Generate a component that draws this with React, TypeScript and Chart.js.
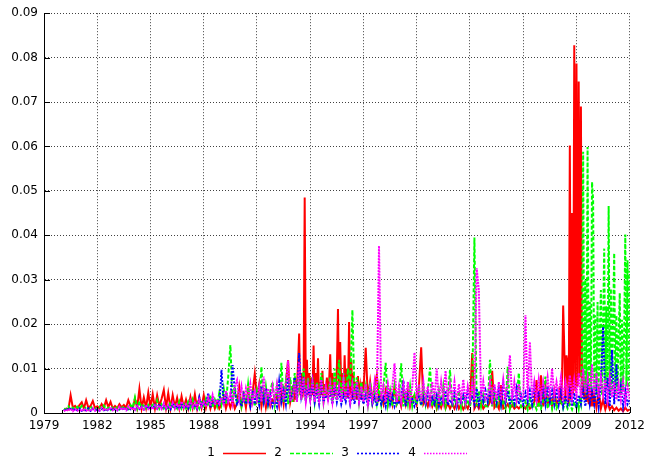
import React, { useEffect, useRef } from "react";
import { Chart, registerables } from "chart.js";

Chart.register(...registerables);

// Values are given in thousandths (multiply by UNIT). Each row is one year,
// sampled evenly through that year (8 or 16 samples); the first row (1980)
// holds 8-per-year samples ending at the year's end.
const UNIT = 0.001;
const FIRST_YEAR = 1980;
const FIRST_ROW_STEPS = 8;

const SERIES_LABELS = ["1", "2", "3", "4"];
const X_TICKS = [1979, 1982, 1985, 1988, 1991, 1994, 1997, 2000, 2003, 2006, 2009, 2012];
const Y_TICKS = [0, 0.01, 0.02, 0.03, 0.04, 0.05, 0.06, 0.07, 0.08, 0.09];

const SERIES_1 = [
  [0.5, 1.0, 0.8, 4.0, 1.2, 1.6, 1.0],
  [1.8, 2.4, 1.0, 2.9, 1.2, 1.6, 2.7, 1.1],
  [1.5, 1.0, 2.0, 1.2, 2.9, 1.3, 2.5, 1.0],
  [1.6, 1.1, 2.0, 1.3, 1.8, 1.2, 2.9, 1.5],
  [1.0, 3.2, 1.2, 5.4, 1.0, 3.5, 1.2, 4.6],
  [1.2, 4.2, 1.0, 4.0, 1.5, 3.2, 5.2, 1.2],
  [4.5, 1.0, 4.0, 1.3, 3.4, 1.0, 3.8, 1.2],
  [3.0, 1.0, 3.6, 1.2, 4.2, 1.0, 3.5, 1.2],
  [4.0, 1.2, 3.2, 1.0, 2.8, 1.0, 2.5, 1.0],
  [2.0, 3.5, 1.0, 2.8, 1.2, 3.0, 1.0, 2.2],
  [5.9, 1.5, 4.0, 1.2, 5.0, 1.5, 4.5, 8.8],
  [3.5, 6.5, 1.5, 4.5, 1.2, 3.8, 1.5, 3.0],
  [2.5, 4.0, 1.5, 5.5, 2.0, 6.5, 11.9, 2.5],
  [5.0, 2.5, 8.0, 3.0, 6.0, 11.0, 17.9, 4.0, 9.0, 3.5, 7.0, 48.5, 5.0, 12.0, 4.0, 9.0],
  [3.0, 8.0, 4.0, 15.2, 3.5, 9.0, 4.0, 12.3, 3.0, 7.0, 4.0, 9.5, 3.0, 6.5, 4.0, 8.0],
  [3.0, 7.0, 13.2, 4.0, 9.0, 3.5, 8.0, 4.0, 10.0, 23.4, 4.0, 16.0, 5.0, 9.0, 4.0, 13.0],
  [4.0, 10.0, 3.5, 20.5, 4.0, 12.0, 3.0, 9.0, 3.5, 7.0, 3.0, 8.3, 4.0, 6.0, 3.0, 7.0],
  [5.0, 14.7, 3.0, 7.0, 2.5, 6.0, 8.6, 3.0],
  [4.0, 2.0, 5.0, 2.0, 4.5, 2.0, 6.0, 2.0],
  [3.5, 1.5, 4.5, 2.0, 5.0, 1.5, 3.5, 4.0],
  [2.0, 6.0, 14.8, 2.0, 3.0, 1.5, 3.5, 1.5],
  [3.0, 1.0, 2.5, 1.2, 3.0, 1.0, 2.2, 1.0],
  [2.0, 1.0, 2.5, 1.0, 2.0, 0.8, 1.8, 1.0],
  [2.5, 13.5, 1.0, 2.0, 1.0, 2.2, 1.0, 1.8],
  [1.5, 2.5, 9.5, 1.2, 2.0, 1.0, 6.3, 1.0],
  [1.2, 2.0, 1.0, 1.8, 1.0, 1.5, 1.0, 1.6],
  [1.5, 1.0, 2.0, 1.0, 1.5, 2.5, 7.4, 1.5],
  [8.5, 1.5, 6.0, 2.0, 4.0, 1.5, 5.0, 2.0],
  [3.0, 6.0, 2.0, 8.0, 24.2, 14.6, 2.5, 13.0, 11.0, 2.0, 60.2, 3.0, 45.0, 4.0, 82.8, 5.0],
  [78.7, 6.0, 74.6, 8.0, 69.0, 4.0, 9.0, 3.0, 8.0, 2.5, 9.3, 2.0, 6.0, 1.5, 5.0, 1.5],
  [4.0, 1.2, 5.0, 1.0, 3.0, 0.8, 2.5, 0.8],
  [1.5, 0.6, 1.2, 0.5, 1.0, 0.4, 1.2, 0.5],
  [0.8],
];

const SERIES_2 = [
  [1.0, 0.8, 1.5, 0.7, 1.2, 0.8, 1.4],
  [0.9, 1.6, 0.8, 1.3, 0.7, 1.5, 0.9, 1.2],
  [0.8, 1.4, 0.9, 1.7, 0.8, 1.2, 0.7, 1.5],
  [1.0, 1.3, 0.8, 1.6, 1.0, 1.4, 0.9, 1.8],
  [1.2, 3.5, 1.0, 2.6, 1.0, 2.0, 1.0, 1.8],
  [1.0, 2.2, 1.0, 2.8, 1.0, 2.0, 1.0, 1.7],
  [1.0, 2.4, 1.0, 1.8, 1.0, 2.6, 1.0, 2.0],
  [1.0, 2.5, 1.0, 3.0, 1.2, 2.2, 1.0, 2.8],
  [1.2, 3.2, 1.5, 4.0, 1.2, 3.0, 1.5, 4.5],
  [2.0, 5.5, 2.0, 8.0, 15.3, 2.5, 6.0, 2.0],
  [4.0, 1.5, 5.0, 2.0, 6.5, 2.0, 4.5, 1.5],
  [5.0, 2.0, 10.4, 2.0, 6.0, 2.0, 5.0, 7.0],
  [2.0, 6.0, 2.0, 11.3, 2.5, 7.0, 2.0, 8.0],
  [2.5, 9.0, 2.5, 8.0, 3.0, 10.0, 2.5, 8.0],
  [3.0, 8.0, 2.5, 7.0, 3.0, 9.0, 2.5, 6.0],
  [3.0, 8.0, 2.5, 10.0, 3.0, 12.0, 3.0, 9.0],
  [3.0, 10.0, 6.0, 23.2, 3.0, 8.0, 2.5, 7.0],
  [3.0, 6.0, 2.0, 7.0, 2.5, 5.0, 2.0, 6.0],
  [2.0, 6.0, 11.3, 2.0, 5.0, 1.5, 6.0, 2.0],
  [3.0, 11.2, 1.5, 5.0, 2.0, 6.0, 1.5, 4.0],
  [2.0, 5.0, 1.5, 6.0, 2.0, 5.0, 10.2, 1.5],
  [4.0, 1.5, 5.0, 1.5, 6.0, 1.5, 4.0, 9.7],
  [1.2, 3.5, 1.5, 5.0, 1.2, 4.0, 1.5, 3.0],
  [1.5, 4.0, 39.5, 1.5, 5.0, 1.5, 4.0, 1.5],
  [1.5, 12.0, 1.5, 5.0, 1.2, 4.0, 1.5, 3.0],
  [1.2, 10.4, 1.0, 3.0, 1.2, 2.5, 9.0, 1.0],
  [1.0, 2.5, 0.8, 3.0, 1.0, 2.0, 0.8, 2.5],
  [1.0, 3.0, 8.2, 1.0, 4.0, 1.0, 3.5, 1.0],
  [2.0, 3.0, 1.0, 2.5, 1.0, 2.0, 0.8, 2.5],
  [1.0, 2.5, 1.0, 3.0, 2.0, 15.0, 58.8, 5.0, 30.0, 4.0, 59.9, 6.0, 25.0, 5.0, 52.0, 48.0],
  [5.0, 22.0, 4.0, 25.0, 6.0, 18.0, 27.7, 4.0, 20.0, 37.0, 5.0, 24.0, 6.0, 46.6, 4.0, 28.0],
  [5.0, 20.0, 36.0, 4.0, 22.0, 5.0, 17.0, 27.0, 4.0, 21.0, 5.0, 18.0, 40.2, 6.0, 34.4, 5.0],
  [32.0],
];

const SERIES_3 = [
  [0.5, 1.0, 0.6, 1.2, 0.5, 0.9, 0.6],
  [1.0, 0.5, 0.8, 0.6, 1.1, 0.5, 0.9, 0.6],
  [0.8, 0.5, 1.0, 0.6, 0.9, 0.5, 1.2, 0.6],
  [0.9, 0.6, 1.1, 0.7, 1.3, 0.6, 1.0, 0.8],
  [1.2, 0.8, 1.6, 0.9, 1.4, 0.8, 1.8, 1.0],
  [1.5, 0.9, 1.8, 1.0, 2.0, 1.0, 1.6, 0.9],
  [1.4, 0.8, 2.2, 1.0, 1.6, 0.9, 2.0, 1.0],
  [1.8, 1.0, 2.4, 1.2, 2.0, 1.0, 3.5, 1.5],
  [2.5, 1.5, 4.5, 1.2, 3.0, 1.8, 3.0, 1.5],
  [9.7, 2.0, 4.0, 2.5, 3.0, 10.8, 5.0, 2.0],
  [3.0, 1.5, 4.0, 2.0, 3.5, 1.5, 5.0, 2.0],
  [4.0, 1.8, 6.0, 2.5, 5.5, 2.0, 4.0, 1.5],
  [3.0, 1.5, 7.0, 2.5, 5.0, 2.0, 8.0, 3.0],
  [4.0, 8.0, 3.0, 13.5, 4.0, 7.0, 3.0, 6.0],
  [3.0, 7.0, 2.5, 5.0, 2.0, 6.0, 2.5, 4.0],
  [3.0, 5.0, 2.0, 6.0, 2.5, 5.0, 2.0, 4.0],
  [2.5, 5.0, 2.0, 4.5, 2.0, 6.0, 2.5, 4.0],
  [2.0, 4.0, 1.5, 5.0, 2.0, 3.5, 1.5, 4.0],
  [2.0, 3.5, 1.5, 5.0, 2.0, 4.0, 1.5, 3.0],
  [2.0, 3.5, 7.3, 1.5, 4.0, 2.0, 3.5, 1.5],
  [2.5, 4.0, 1.8, 3.5, 2.0, 4.5, 2.0, 3.5],
  [2.0, 4.0, 1.5, 3.5, 2.0, 5.0, 1.8, 3.0],
  [2.0, 4.5, 1.5, 3.5, 2.0, 4.0, 2.2, 5.0],
  [2.5, 4.0, 2.0, 5.5, 2.0, 4.5, 2.5, 5.0],
  [2.5, 5.0, 2.0, 6.0, 2.5, 5.5, 2.0, 6.5],
  [2.5, 5.0, 1.8, 4.5, 2.2, 5.5, 2.0, 4.0],
  [2.0, 4.5, 2.5, 5.0, 2.0, 6.0, 2.5, 5.0],
  [2.5, 5.5, 2.0, 6.0, 2.5, 5.0, 2.0, 5.5],
  [2.0, 5.0, 1.5, 4.0, 2.0, 5.0, 1.5, 4.5],
  [1.5, 4.0, 2.0, 5.0, 1.5, 6.0, 2.0, 5.0],
  [2.0, 6.0, 1.5, 7.0, 19.4, 2.0, 8.0, 1.5],
  [14.2, 2.0, 11.0, 2.5, 6.0, 1.5, 5.0, 2.0],
  [3.0],
];

const SERIES_4 = [
  [0.4, 0.8, 0.5, 1.0, 0.4, 0.9, 0.5],
  [0.8, 0.4, 1.0, 0.5, 0.8, 0.4, 1.1, 0.5],
  [0.9, 0.5, 1.2, 0.5, 1.0, 0.6, 1.3, 0.6],
  [1.0, 0.6, 1.4, 0.7, 1.2, 0.6, 1.5, 0.8],
  [1.3, 0.7, 1.6, 0.8, 1.4, 0.8, 1.8, 0.9],
  [1.5, 0.8, 2.0, 1.0, 1.7, 0.9, 2.2, 1.0],
  [1.8, 1.0, 2.4, 1.1, 2.0, 1.0, 2.6, 1.2],
  [2.0, 1.2, 2.8, 1.3, 2.4, 1.2, 3.0, 1.5],
  [2.5, 1.4, 3.5, 1.6, 4.0, 1.8, 3.0, 2.0],
  [3.5, 2.0, 5.0, 2.5, 4.5, 2.0, 6.0, 7.4],
  [3.0, 6.0, 2.5, 5.5, 3.0, 6.5, 2.5, 5.0],
  [3.0, 6.0, 2.5, 8.2, 3.0, 5.5, 2.5, 6.0],
  [3.0, 6.5, 2.5, 7.0, 3.0, 6.0, 11.8, 3.0],
  [3.0, 7.0, 2.5, 11.5, 3.0, 8.0, 2.5, 6.5],
  [3.0, 7.0, 2.5, 6.5, 3.0, 7.5, 2.5, 6.0],
  [3.0, 6.5, 2.5, 7.0, 3.0, 6.0, 2.5, 7.5],
  [3.0, 6.0, 2.5, 6.5, 3.0, 7.0, 2.5, 6.0],
  [2.5, 6.5, 2.0, 6.0, 3.0, 7.0, 2.5, 37.6],
  [3.0, 6.0, 2.5, 6.5, 3.0, 6.0, 11.2, 2.5],
  [6.0, 2.5, 6.5, 3.0, 7.0, 2.5, 6.0, 13.6],
  [3.0, 6.5, 2.5, 7.0, 3.0, 6.0, 2.5, 7.0],
  [3.0, 10.0, 2.5, 7.0, 3.0, 9.5, 2.5, 6.5],
  [3.0, 7.0, 2.5, 6.5, 3.0, 7.5, 2.5, 6.0],
  [3.0, 6.5, 3.0, 32.6, 27.7, 3.0, 7.0, 3.0],
  [3.5, 7.0, 3.0, 6.5, 3.0, 7.0, 3.0, 7.5],
  [3.5, 6.5, 13.0, 3.0, 7.0, 3.0, 6.5, 3.0],
  [3.5, 22.0, 3.0, 16.0, 3.5, 7.0, 3.0, 7.5],
  [3.5, 7.0, 3.5, 8.0, 3.5, 10.0, 4.0, 7.0],
  [4.0, 8.0, 3.5, 7.0, 4.0, 8.5, 3.5, 7.5],
  [4.0, 9.0, 3.5, 10.0, 4.5, 8.0, 3.5, 11.0],
  [4.0, 9.0, 3.5, 8.0, 4.0, 7.5, 3.0, 8.0],
  [3.5, 7.0, 3.0, 6.5, 3.0, 7.0, 2.5, 6.0],
  [3.0],
];

const SERIES_ROWS = [SERIES_1, SERIES_2, SERIES_3, SERIES_4];
const SERIES_COLORS = ["#ff0000", "#00ff00", "#0000ff", "#ff00ff"];
const SERIES_DASH: number[][] = [[], [4, 2], [2, 1.5], [2, 1]];
const LEGEND_DASH: number[][] = [[], [4, 2], [2, 2], [1.5, 1.5]];

const FONT_FAMILY = '"DejaVu Sans", sans-serif';
const FONT_SIZE = 12;

function toPoints(rows: number[][]) {
  const pts: { x: number; y: number }[] = [];
  rows.forEach((row, r) => {
    const year = FIRST_YEAR + r;
    row.forEach((v, j) => {
      const t = r === 0 ? year + 1 - (row.length - j) / FIRST_ROW_STEPS : year + j / row.length;
      pts.push({ x: t, y: v * UNIT });
    });
  });
  return pts;
}

const decorPlugin = {
  id: "decor",
  afterDraw(chart: any) {
    const { ctx, chartArea, scales } = chart;
    const xs = scales.x;
    const ys = scales.y;
    ctx.save();
    ctx.strokeStyle = "#000";
    ctx.lineWidth = 1;
    ctx.setLineDash([]);
    for (let yr = X_TICKS[0]; yr <= X_TICKS[X_TICKS.length - 1]; yr++) {
      const px = Math.round(xs.getPixelForValue(yr)) + 0.5;
      const len = X_TICKS.includes(yr) ? 6 : 3;
      ctx.beginPath();
      ctx.moveTo(px, chartArea.bottom);
      ctx.lineTo(px, chartArea.bottom - len);
      ctx.stroke();
    }
    for (const v of Y_TICKS) {
      const py = Math.round(ys.getPixelForValue(v)) + 0.5;
      ctx.beginPath();
      ctx.moveTo(chartArea.left, py);
      ctx.lineTo(chartArea.left + 6, py);
      ctx.stroke();
    }
    ctx.font = `${FONT_SIZE}px ${FONT_FAMILY}`;
    ctx.fillStyle = "#000";
    ctx.textAlign = "right";
    ctx.textBaseline = "middle";
    const ly = 453;
    SERIES_LABELS.forEach((lab, i) => {
      const lx = 223 + 67 * i;
      ctx.fillText(lab, lx - 8, ly);
      ctx.save();
      ctx.strokeStyle = SERIES_COLORS[i];
      ctx.lineWidth = 1.6;
      ctx.setLineDash(LEGEND_DASH[i]);
      ctx.beginPath();
      ctx.moveTo(lx, ly + 0.5);
      ctx.lineTo(lx + 43, ly + 0.5);
      ctx.stroke();
      ctx.restore();
    });
    ctx.restore();
  },
};

export default function App() {
  const canvasRef = useRef<HTMLCanvasElement>(null);

  useEffect(() => {
    const canvas = canvasRef.current;
    if (!canvas) return;
    const font = { family: FONT_FAMILY, size: FONT_SIZE };
    const gridColor = "rgba(0,0,0,0.75)";
    const chart = new Chart(canvas, {
      type: "line",
      data: {
        datasets: SERIES_ROWS.map((rows, i) => ({
          label: SERIES_LABELS[i],
          data: toPoints(rows),
          borderColor: SERIES_COLORS[i],
          backgroundColor: SERIES_COLORS[i],
          borderWidth: 2,
          borderDash: SERIES_DASH[i],
          pointRadius: 0,
          tension: 0,
          fill: false,
          order: SERIES_ROWS.length - i,
        })),
      },
      options: {
        animation: false,
        responsive: false,
        devicePixelRatio: 1,
        layout: { padding: { top: 13, right: 19, left: 0, bottom: 0 } },
        plugins: { legend: { display: false }, tooltip: { enabled: false } },
        scales: {
          x: {
            type: "linear",
            min: X_TICKS[0],
            max: X_TICKS[X_TICKS.length - 1],
            afterBuildTicks: (s: any) => {
              s.ticks = X_TICKS.map((v) => ({ value: v }));
            },
            afterFit: (s: any) => {
              s.height = 50;
            },
            ticks: {
              font,
              color: "#000",
              padding: 6,
              maxRotation: 0,
              autoSkip: false,
              callback: (v: any) => String(v),
            },
            grid: { color: gridColor, lineWidth: 1, drawTicks: false },
            border: { display: true, color: "#000", width: 1, dash: [1, 2] },
          },
          y: {
            type: "linear",
            min: 0,
            max: Y_TICKS[Y_TICKS.length - 1],
            afterBuildTicks: (s: any) => {
              s.ticks = Y_TICKS.map((v) => ({ value: v }));
            },
            afterFit: (s: any) => {
              s.width = 44;
            },
            ticks: {
              font,
              color: "#000",
              padding: 6,
              callback: (v: any) => (v === 0 ? "0" : Number(v).toFixed(2)),
            },
            grid: { color: gridColor, lineWidth: 1, drawTicks: false },
            border: { display: true, color: "#000", width: 1, dash: [1, 2] },
          },
        },
      },
      plugins: [decorPlugin],
    } as any);
    return () => chart.destroy();
  }, []);

  return (
    <div style={{ position: "absolute", left: 0, top: 0, width: 651, height: 463, background: "#fff" }}>
      <canvas ref={canvasRef} width={651} height={463} style={{ display: "block" }} />
    </div>
  );
}
